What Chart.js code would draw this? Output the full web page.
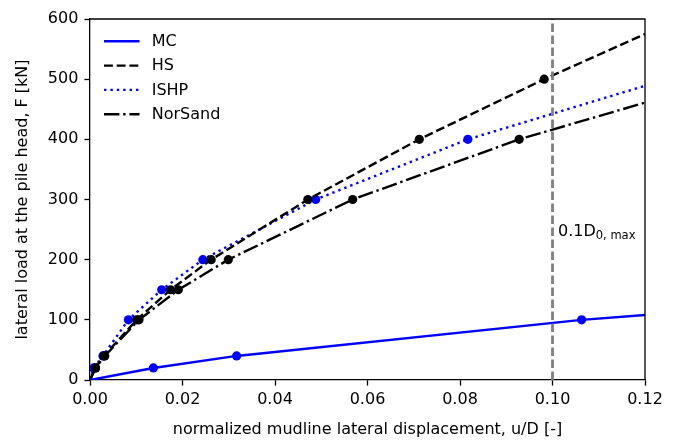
<!DOCTYPE html>
<html>
<head>
<meta charset="utf-8">
<script src="https://cdn.jsdelivr.net/npm/chart.js@4.4.1/dist/chart.umd.min.js"></script>
<style>
  html, body { margin: 0; padding: 0; background: #fff; }
  #chart { display: block; }
</style>
</head>
<body>
<canvas id="chart" width="678" height="441"></canvas>
<script>
// tick labels
const xTicks = [0, 0.02, 0.04, 0.06, 0.08, 0.10, 0.12];
const yTicks = [0, 100, 200, 300, 400, 500, 600];

// measured points (u/D, load in kN)
const mcDisp = [0.0137, 0.0317, 0.1063];
const mcLoad = [20, 40, 100];
const hsDisp = [0.0012, 0.0030, 0.0101, 0.0174, 0.0262, 0.0471, 0.0712, 0.0982];
const hsLoad = [20, 40, 100, 150, 200, 300, 400, 500];
const ishpDisp = [0.0008, 0.0028, 0.0083, 0.0155, 0.0244, 0.0488, 0.0817];
const ishpLoad = [20, 40, 100, 150, 200, 300, 400];
const norDisp = [0.0012, 0.0032, 0.0106, 0.0191, 0.0299, 0.0568, 0.0928];
const norLoad = [20, 40, 100, 150, 200, 300, 400];

// curve values at the right edge (u/D = 0.12)
const endDisp = 0.12;
const endLoad = { MC: 108, HS: 575, ISHP: 489, NorSand: 461 };

// reference line
const refDisp = 0.1;

const FONT = "'DejaVu Sans', 'Liberation Sans', sans-serif";
Chart.defaults.font.family = FONT;
Chart.defaults.font.size = 16;
Chart.defaults.color = '#000';

function curve(disp, load, last) {
    // line starts at the origin, markers only on measured points
    const pts = [{ x: 0, y: 0 }];
    disp.forEach((d, i) => pts.push({ x: d, y: load[i] }));
    pts.push({ x: endDisp, y: last });
    return pts;
}

function markerOnly(ctx) {
    const n = ctx.dataset.data.length;
    return (ctx.dataIndex === 0 || ctx.dataIndex === n - 1) ? 0 : 4.6;
}

function series(label, data, color, dash) {
    return {
        label: label,
        data: data,
        borderColor: color,
        backgroundColor: color,
        borderWidth: 2.4,
        borderDash: dash,
        borderCapStyle: 'butt',
        pointRadius: markerOnly,
        pointHoverRadius: markerOnly,
        pointBorderWidth: 0,
        tension: 0,
        order: 2
    };
}

const datasets = [
    series('MC', curve(mcDisp, mcLoad, endLoad.MC), '#0000ff', []),
    series('HS', curve(hsDisp, hsLoad, endLoad.HS), '#000000', [8.9, 3.8]),
    series('ISHP', curve(ishpDisp, ishpLoad, endLoad.ISHP), '#0000ff', [2.4, 4.0]),
    series('NorSand', curve(norDisp, norLoad, endLoad.NorSand), '#000000', [15.4, 3.8, 2.4, 3.8]),
    {
        label: '',
        data: [{ x: refDisp, y: 0 }, { x: refDisp, y: 600 }],
        borderColor: '#808080',
        borderWidth: 2.8,
        borderDash: [8.5, 3.5],
        pointRadius: 0,
        order: 1
    }
];

const decor = {
    id: 'decor',
    afterDraw(chart) {
        const { ctx, chartArea: a, scales: { x, y } } = chart;
        ctx.save();

        // top and right spines
        ctx.strokeStyle = '#000';
        ctx.lineWidth = 1.3;
        ctx.setLineDash([]);
        ctx.beginPath();
        ctx.moveTo(a.left, a.top);
        ctx.lineTo(a.right, a.top);
        ctx.lineTo(a.right, a.bottom);
        ctx.stroke();

        // legend in the upper left corner
        ctx.font = '16px ' + FONT;
        ctx.textBaseline = 'middle';
        ctx.textAlign = 'left';
        chart.data.datasets.filter(ds => ds.label).forEach((ds, i) => {
            const ly = a.top + 22.3 + i * 24.3;
            ctx.strokeStyle = ds.borderColor;
            ctx.lineWidth = ds.borderWidth;
            ctx.lineCap = 'butt';
            ctx.setLineDash(ds.borderDash || []);
            ctx.beginPath();
            ctx.moveTo(a.left + 14, ly);
            ctx.lineTo(a.left + 49.5, ly);
            ctx.stroke();
            ctx.fillStyle = '#000';
            ctx.fillText(ds.label, a.left + 61.7, ly + 0.5);
        });

        // label of the reference line
        ctx.setLineDash([]);
        ctx.textBaseline = 'alphabetic';
        const tx = x.getPixelForValue(refDisp) + 5.5;
        const ty = y.getPixelForValue(240);
        ctx.font = '16px ' + FONT;
        ctx.fillText('0.1D', tx, ty);
        const w = ctx.measureText('0.1D').width;
        ctx.font = '11.5px ' + FONT;
        ctx.fillText('0, max', tx + w, ty + 3.3);

        ctx.restore();
    }
};

new Chart(document.getElementById('chart'), {
    type: 'line',
    data: { datasets: datasets },
    options: {
        responsive: false,
        animation: false,
        layout: { padding: { top: 19, right: 33, left: 0, bottom: 0 } },
        plugins: {
            legend: { display: false },
            tooltip: { enabled: false }
        },
        scales: {
            x: {
                type: 'linear',
                min: 0,
                max: 0.12,
                afterBuildTicks: s => { s.ticks = xTicks.map(v => ({ value: v })); },
                afterFit: s => { s.height = 61; },
                ticks: {
                    callback: v => v.toFixed(2),
                    autoSkip: false,
                    maxRotation: 0,
                    padding: 5
                },
                grid: {
                    drawOnChartArea: false,
                    drawTicks: true,
                    tickLength: 5.6,
                    tickWidth: 1.3,
                    tickColor: '#000'
                },
                border: { display: true, color: '#000', width: 1.3 },
                title: {
                    display: true,
                    text: 'normalized mudline lateral displacement, u/D [-]',
                    padding: { top: 0, bottom: 2 }
                }
            },
            y: {
                type: 'linear',
                min: 0,
                max: 600,
                afterBuildTicks: s => { s.ticks = yTicks.map(v => ({ value: v })); },
                afterFit: s => { s.width = 90; },
                ticks: {
                    callback: v => String(v),
                    autoSkip: false,
                    padding: 6
                },
                grid: {
                    drawOnChartArea: false,
                    drawTicks: true,
                    tickLength: 5.6,
                    tickWidth: 1.3,
                    tickColor: '#000'
                },
                border: { display: true, color: '#000', width: 1.3 },
                title: {
                    display: true,
                    text: 'lateral load at the pile head, F [kN]',
                    padding: { top: 13, bottom: 0 }
                }
            }
        }
    },
    plugins: [decor]
});
</script>
</body>
</html>
